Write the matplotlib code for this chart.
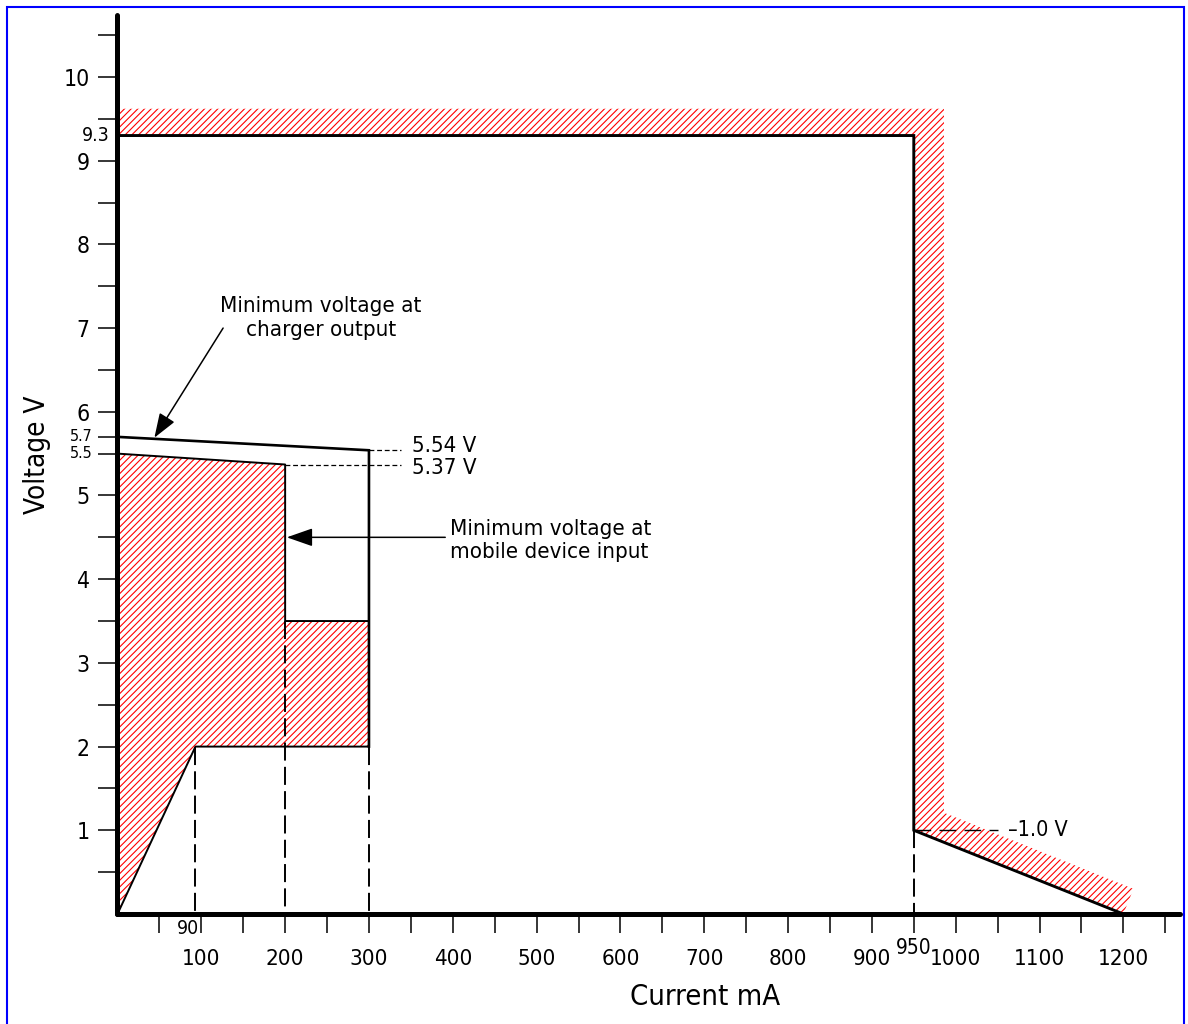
import matplotlib
matplotlib.use('Agg')
import matplotlib.pyplot as plt
from matplotlib.patches import Polygon, Rectangle

plt.rcParams['font.family'] = ['DejaVu Sans']
plt.rcParams['font.stretch'] = 'condensed'
plt.rcParams['hatch.linewidth'] = 0.8
plt.rcParams['lines.scale_dashes'] = False

# charger output upper limit (current mA, voltage V)
limit_i = [0, 950, 950, 1200]
limit_v = [9.3, 9.3, 1.0, 0.0]

# forbidden zone above the limit
band_i = [0, 0, 986, 986, 1212, 1200, 950, 950]
band_v = [9.3, 9.62, 9.62, 1.21, 0.30, 0.0, 1.0, 9.3]

# minimum voltage at charger output
chg_i = [0, 300, 300]
chg_v = [5.7, 5.54, 2.0]

# minimum voltage at mobile device input (hatched zone)
dev_i = [0, 0, 200, 200, 300, 300, 93, 0]
dev_v = [0, 5.5, 5.37, 3.5, 3.5, 2.0, 2.0, 0]

# dashed drop lines
drop_i = [93, 200, 300, 950]
drop_v = [2.0, 3.5, 2.0, 1.0]

x_ticks = list(range(50, 1300, 50))
x_labels = [str(t) if t % 100 == 0 and t <= 1200 else '' for t in x_ticks]
y_ticks = [0.5 * k for k in range(1, 22)] + [5.7]
y_labels = [str(int(t)) if t == int(t) else '' for t in y_ticks]

fig = plt.figure(figsize=(11.88, 10.24), dpi=100)
ax = fig.add_axes([117.5 / 1188, 110 / 1024, 1062 / 1188, 899 / 1024])
ax.set_xlim(0, 1267)
ax.set_ylim(0, 10.74)

ax.add_patch(Polygon(list(zip(band_i, band_v)), closed=True, facecolor='white',
                     edgecolor='red', linewidth=0, hatch='/////', zorder=1))
ax.add_patch(Polygon(list(zip(dev_i, dev_v)), closed=True, facecolor='white',
                     edgecolor='red', linewidth=0, hatch='/////', zorder=1))

ax.plot(limit_i, limit_v, color='black', lw=2.1, solid_joinstyle='miter')
ax.plot(chg_i, chg_v, color='black', lw=1.9, solid_joinstyle='miter')
ax.plot(dev_i[1:5], dev_v[1:5], color='black', lw=1.4)
ax.plot(dev_i[5:], dev_v[5:], color='black', lw=1.4)

for xi, top in zip(drop_i, drop_v):
    ax.plot([xi, xi], [top, 0], color='black', lw=1.4, dashes=(13, 4.5))

ax.plot([300, 338], [5.54, 5.54], color='black', lw=0.9, dashes=(3.5, 2))
ax.plot([200, 338], [5.37, 5.37], color='black', lw=0.9, dashes=(3.5, 2))
ax.plot([950, 1050], [1.0, 1.0], color='black', lw=1.0, dashes=(12, 6))

ax.text(351, 5.59, '5.54 V', fontsize=16, va='center', ha='left')
ax.text(351, 5.33, '5.37 V', fontsize=16, va='center', ha='left')
ax.text(1062, 1.0, '\u20131.0 V', fontsize=15.5, va='center', ha='left')

ax.annotate('', xy=(44, 5.69), xytext=(126, 7.0),
            arrowprops=dict(arrowstyle='-|>,head_length=0.75,head_width=0.27',
                            color='black', lw=1.1, mutation_scale=20,
                            shrinkA=0, shrinkB=0))
ax.text(243, 7.12, 'Minimum voltage at\ncharger output', fontsize=16,
        ha='center', va='center', linespacing=1.2)

ax.annotate('', xy=(202, 4.5), xytext=(391, 4.5),
            arrowprops=dict(arrowstyle='-|>,head_length=0.8,head_width=0.28',
                            color='black', lw=1.1, mutation_scale=20,
                            shrinkA=0, shrinkB=0))
ax.text(397, 4.46, 'Minimum voltage at\nmobile device input', fontsize=16,
        ha='left', va='center', linespacing=1.2)

for s in ['top', 'right']:
    ax.spines[s].set_visible(False)
for s in ['left', 'bottom']:
    ax.spines[s].set_linewidth(3.6)
    ax.spines[s].set_capstyle('round')

ax.set_xticks(x_ticks)
ax.set_xticklabels(x_labels)
ax.set_yticks(y_ticks)
ax.set_yticklabels(y_labels)
ax.tick_params(axis='x', length=14, width=1.1, pad=11, labelsize=16)
ax.tick_params(axis='y', length=14, width=1.1, pad=6, labelsize=16.5)

ax.text(-9, 9.3, '9.3', fontsize=14, ha='right', va='center')
ax.text(-30, 5.7, '5.7', fontsize=11.5, ha='right', va='center')
ax.text(-30, 5.5, '5.5', fontsize=11.5, ha='right', va='center')
ax.text(84, -0.17, '90', fontsize=14, ha='center', va='center')
ax.text(950, -0.41, '950', fontsize=15, ha='center', va='center')

fig.text(705 / 1188, 1 - 997 / 1024, 'Current mA', fontsize=21, ha='center', va='center')
fig.text(37 / 1188, 1 - 455 / 1024, 'Voltage V', fontsize=20, ha='center', va='center',
         rotation=90)

fig.add_artist(Rectangle((7 / 1188, -0.02), 1177 / 1188, 1 - 7 / 1024 + 0.02,
                         transform=fig.transFigure, fill=False,
                         edgecolor='#0000ff', linewidth=1.5))

fig.savefig('out.png', dpi=100)
